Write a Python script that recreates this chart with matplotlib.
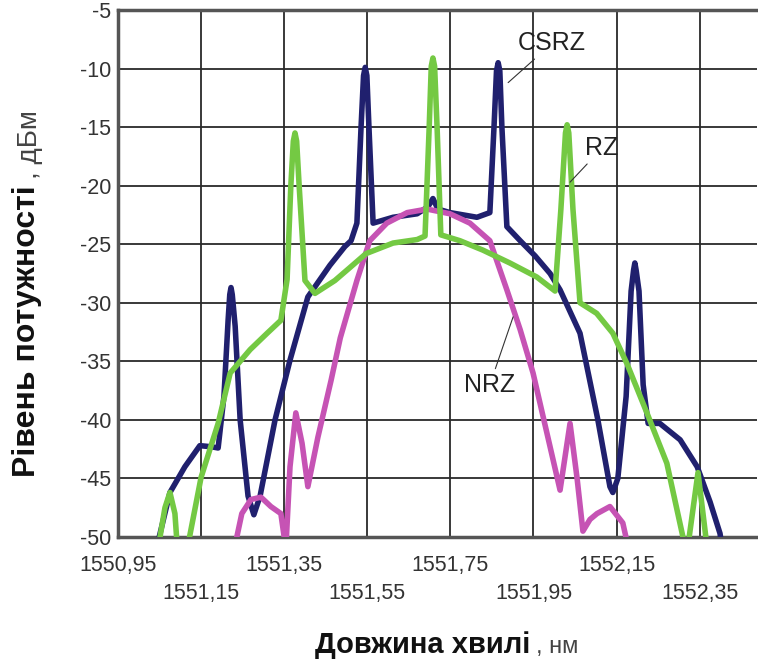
import matplotlib
matplotlib.use("Agg")
import matplotlib.pyplot as plt

plt.rcParams['font.family'] = ['Liberation Sans', 'DejaVu Sans']

# wavelength (nm) / power level (dBm)
csrz_x = [1551.039, 1551.075, 1551.111, 1551.147, 1551.176, 1551.191, 1551.205, 1551.215,
          1551.219, 1551.222, 1551.225, 1551.232, 1551.244, 1551.263, 1551.277, 1551.292,
          1551.328, 1551.364, 1551.407, 1551.460, 1551.496, 1551.511, 1551.525, 1551.535,
          1551.541, 1551.545, 1551.549, 1551.554, 1551.564, 1551.612, 1551.670, 1551.696,
          1551.708, 1551.720, 1551.749, 1551.814, 1551.845, 1551.855, 1551.861, 1551.865,
          1551.869, 1551.874, 1551.886, 1551.918, 1551.954, 1551.990, 1552.014, 1552.062,
          1552.105, 1552.134, 1552.141, 1552.153, 1552.173, 1552.185, 1552.191, 1552.194,
          1552.197, 1552.204, 1552.214, 1552.226, 1552.254, 1552.303, 1552.344, 1552.375,
          1552.399, 1552.406]
csrz_y = [-51.5, -46.2, -44.0, -42.2, -42.3, -42.4, -38.0, -31.5,
          -29.3, -28.7, -29.3, -32.0, -40.0, -46.5, -48.1, -46.5,
          -40.0, -34.9, -29.5, -26.8, -25.2, -24.7, -23.2, -15.0,
          -10.6, -9.9, -10.6, -15.0, -23.2, -22.7, -22.4, -21.8,
          -21.1, -22.0, -22.3, -22.7, -22.3, -15.0, -10.2, -9.5,
          -10.2, -15.0, -23.5, -24.7, -26.0, -27.5, -28.9, -32.6,
          -40.0, -45.7, -46.2, -45.0, -38.0, -29.0, -27.2, -26.6,
          -27.2, -29.0, -37.0, -40.3, -40.3, -41.7, -44.0, -47.0,
          -49.7, -51.5]

rz_x = [1551.044, 1551.063, 1551.075, 1551.087, 1551.094, 1551.114, 1551.150, 1551.191,
        1551.220, 1551.268, 1551.309, 1551.342, 1551.357, 1551.366, 1551.372, 1551.376,
        1551.380, 1551.386, 1551.400, 1551.424, 1551.472, 1551.508, 1551.547, 1551.612,
        1551.670, 1551.689, 1551.699, 1551.704, 1551.708, 1551.712, 1551.718, 1551.727,
        1551.773, 1551.828, 1551.893, 1551.958, 1552.002, 1552.016, 1552.027, 1552.031,
        1552.035, 1552.045, 1552.062, 1552.102, 1552.141, 1552.175, 1552.223, 1552.271,
        1552.319, 1552.346, 1552.370]
rz_y = [-51.5, -47.5, -46.2, -48.0, -51.5, -51.5, -44.9, -40.3,
        -36.0, -34.0, -32.6, -31.5, -28.0, -20.0, -16.2, -15.5,
        -16.2, -20.0, -28.1, -29.2, -28.1, -27.0, -25.8, -24.9,
        -24.6, -24.3, -15.0, -9.8, -9.1, -9.8, -15.0, -24.2,
        -24.7, -25.5, -26.6, -27.8, -29.0, -22.0, -15.5, -14.8,
        -15.5, -22.0, -30.0, -30.9, -32.6, -35.2, -39.4, -43.7,
        -51.5, -44.5, -51.5]

nrz_x = [1551.227, 1551.248, 1551.270, 1551.294, 1551.318, 1551.342, 1551.354, 1551.364,
         1551.378, 1551.393, 1551.407, 1551.431, 1551.463, 1551.485, 1551.525, 1551.556,
         1551.597, 1551.646, 1551.694, 1551.749, 1551.797, 1551.845, 1551.886, 1551.918,
         1551.949, 1551.990, 1552.014, 1552.038, 1552.055, 1552.069, 1552.086, 1552.103,
         1552.134, 1552.165, 1552.182]
nrz_y = [-51.5, -48.0, -46.8, -46.6, -47.4, -48.0, -51.0, -44.0,
         -39.4, -42.0, -45.7, -41.5, -36.6, -33.0, -28.1, -24.7,
         -23.2, -22.3, -22.0, -22.4, -23.2, -24.7, -28.9, -32.3,
         -36.0, -42.3, -46.0, -40.3, -45.0, -49.5, -48.5, -48.0,
         -47.4, -48.8, -51.5]

xtick_major = [1550.95, 1551.35, 1551.75, 1552.15]
xtick_minor = [1551.15, 1551.55, 1551.95, 1552.35]
yticks = [-50, -45, -40, -35, -30, -25, -20, -15, -10, -5]

fig = plt.figure(figsize=(7.58, 6.7), dpi=100)
ax = fig.add_axes([118 / 758, 133 / 670, 639 / 758, 527 / 670])

ax.plot(csrz_x, csrz_y, color='#20206e', lw=4, solid_joinstyle='round', zorder=3)
ax.plot(nrz_x, nrz_y, color='#c653b4', lw=4, solid_joinstyle='round', zorder=4)
ax.plot(rz_x, rz_y, color='#74c943', lw=4, solid_joinstyle='round', zorder=5)

ax.set_xlim(1550.95, 1552.488)
ax.set_ylim(-50, -5)

fmt = lambda v: f"{v:.2f}".replace('.', ',')
ax.set_xticks(xtick_major)
ax.set_xticklabels([fmt(v) for v in xtick_major])
ax.set_xticks(xtick_minor, minor=True)
ax.set_xticklabels([fmt(v) for v in xtick_minor], minor=True)
ax.set_yticks(yticks)
ax.set_yticklabels([str(v) for v in yticks])

ax.tick_params(axis='x', which='major', length=0, pad=13, labelsize=15.5, labelcolor='#333333')
ax.tick_params(axis='x', which='minor', length=0, pad=33, labelsize=15.5, labelcolor='#333333')
ax.tick_params(axis='y', length=0, pad=5, labelsize=15.5, labelcolor='#333333')

ax.grid(True, which='both', color='#2a2a2a', lw=1.3, zorder=1)
ax.set_axisbelow(True)
for side in ['left', 'bottom', 'top']:
    ax.spines[side].set_color('#555555')
    ax.spines[side].set_linewidth(2.5)
ax.spines['right'].set_visible(False)

# curve labels with leader lines
arrow = dict(arrowstyle='-', lw=0.8, color='#333333', shrinkA=1, shrinkB=0)
ax.annotate('CSRZ', xy=(1551.889, -11.2), xytext=(1551.995, -7.85), ha='center', va='center',
            fontsize=18, color='#222222', arrowprops=arrow, zorder=6)
ax.annotate('RZ', xy=(1552.038, -19.7), xytext=(1552.115, -16.8), ha='center', va='center',
            fontsize=18, color='#222222', arrowprops=arrow, zorder=6)
ax.annotate('NRZ', xy=(1551.901, -31.2), xytext=(1551.845, -37.0), ha='center', va='center',
            fontsize=18, color='#222222', arrowprops=arrow, zorder=6)

# axis titles: bold part plus regular unit
fig.canvas.draw()
r = fig.canvas.get_renderer()
xb = fig.text(530 / 758, 1 - 645 / 670, 'Довжина хвилі', ha='right', va='center',
              fontsize=21, fontweight='bold', color='#111111')
bb = xb.get_window_extent(r)
fig.text((bb.x1 + 6) / 758, 1 - 647 / 670, ', нм', ha='left', va='center',
         fontsize=17, color='#444444')

yb = fig.text(27 / 758, 1 - 477 / 670, 'Рівень потужності', ha='center', va='bottom',
              rotation=90, fontsize=23, fontweight='bold', color='#111111')
bb = yb.get_window_extent(r)
fig.text(30 / 758, (bb.y1 + 6) / 670, ', дБм', ha='center', va='bottom',
         rotation=90, fontsize=20, color='#444444')

fig.savefig('out.png', dpi=100)
